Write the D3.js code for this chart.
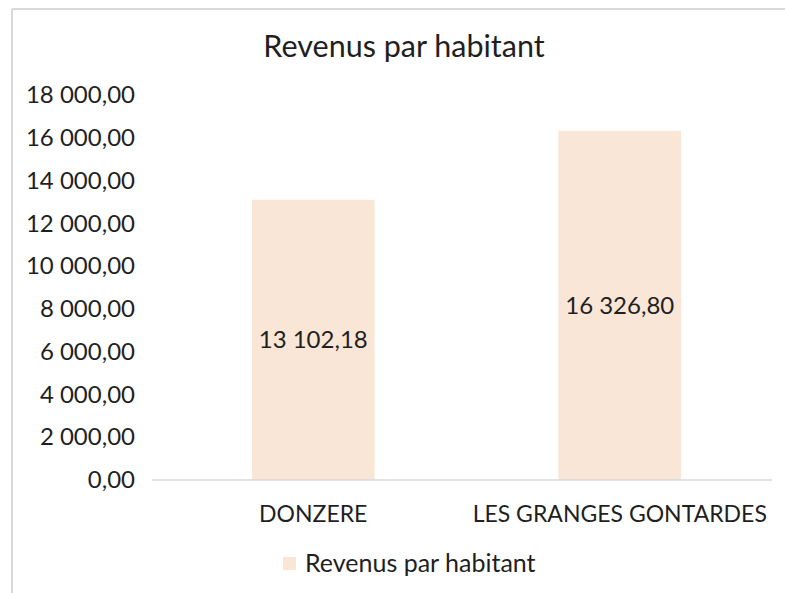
<!DOCTYPE html>
<html lang="fr">
<head>
<meta charset="utf-8">
<title>Revenus par habitant</title>
<script src="https://d3js.org/d3.v7.min.js"></script>
<style>
  body { margin: 0; background: #fff; }
  text { font-family: Lato, "Open Sans", sans-serif; fill: #1f1f1f; }
  .titre { font-size: 30.5px; text-anchor: middle; }
  .val { font-size: 24px; text-anchor: middle; }
  .leg { font-size: 25px; }
</style>
</head>
<body>
<script>
// données
var communes = ["DONZERE", "LES GRANGES GONTARDES"];
var revenus = [13102.18, 16326.80];
var graduations = [0, 2000, 4000, 6000, 8000, 10000, 12000, 14000, 16000, 18000];
var serie = "Revenus par habitant";

var w = 785, h = 593;
var couleur = "#FAE6D7";

var svg = d3.select("body").append("svg")
    .attr("width", w)
    .attr("height", h);

// cadre (bords gauche et haut seulement visibles)
svg.append("line").attr("x1", 12).attr("y1", 9).attr("x2", 12).attr("y2", h)
    .attr("stroke", "#d9d9d9").attr("stroke-width", 2);
svg.append("line").attr("x1", 12).attr("y1", 9).attr("x2", w).attr("y2", 9)
    .attr("stroke", "#d9d9d9").attr("stroke-width", 2);

// format français : espace pour les milliers, virgule décimale
var fr = d3.formatLocale({ decimal: ",", thousands: "\u00a0", grouping: [3], currency: ["", " €"] });
var fmt = fr.format(",.2f");

var x = d3.scaleBand()
    .domain(communes)
    .range([160, 773])
    .paddingInner(0.6)
    .paddingOuter(0.3);

var y = d3.scaleLinear()
    .domain([0, 18000])
    .range([480, 95]);

// titre
svg.append("text").attr("class", "titre")
    .attr("x", 404).attr("y", 57)
    .text(serie);

// axe y (sans ligne ni graduations)
var axeY = svg.append("g")
    .attr("transform", "translate(144,0)")
    .call(d3.axisLeft(y).tickValues(graduations).tickFormat(fmt).tickSize(0).tickPadding(9));
axeY.select(".domain").remove();
axeY.selectAll(".tick text").attr("fill", "#1f1f1f").style("font-size", "24px");

// barres
svg.selectAll(".barre")
    .data(revenus)
    .enter()
    .append("rect")
    .attr("class", "barre")
    .attr("x", function(d, i) { return x(communes[i]); })
    .attr("width", x.bandwidth())
    .attr("y", function(d) { return y(d); })
    .attr("height", function(d) { return y(0) - y(d); })
    .attr("fill", couleur);

// étiquettes de valeurs au centre des barres
svg.selectAll(".val")
    .data(revenus)
    .enter()
    .append("text")
    .attr("class", "val")
    .attr("x", function(d, i) { return x(communes[i]) + x.bandwidth() / 2; })
    .attr("y", function(d) { return (y(d) + y(0)) / 2; })
    .attr("dy", "0.35em")
    .text(fmt);

// ligne de base
svg.append("line")
    .attr("x1", 152).attr("x2", 772)
    .attr("y1", y(0)).attr("y2", y(0))
    .attr("stroke", "#d9d9d9").attr("stroke-width", 1.5);

// axe x
var axeX = svg.append("g")
    .attr("transform", "translate(0," + y(0) + ")")
    .call(d3.axisBottom(x).tickSize(0).tickPadding(26));
axeX.select(".domain").remove();
axeX.selectAll(".tick text").attr("fill", "#1f1f1f").style("font-size", "23px");

// légende
svg.append("rect")
    .attr("x", 283).attr("y", 557)
    .attr("width", 13).attr("height", 13)
    .attr("fill", couleur);
svg.append("text").attr("class", "leg")
    .attr("x", 305).attr("y", 572)
    .text(serie);
</script>
</body>
</html>
